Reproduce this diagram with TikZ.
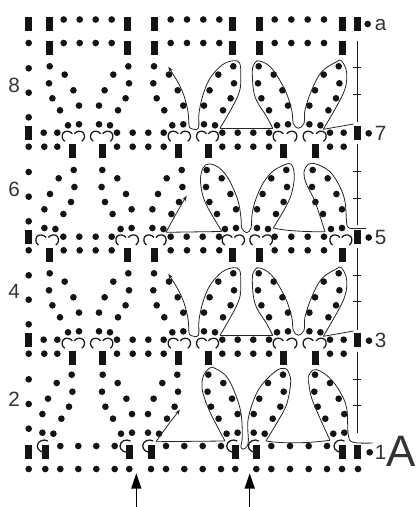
\documentclass[tikz,border=0pt]{standalone}
\usepackage{fontspec}
\setmainfont{Liberation Sans}
\usetikzlibrary{arrows.meta}
\newcommand\dotrow[2]{\foreach \px in {#2} \fill[ink] (\px,#1) circle[radius=2.5pt];}
\newcommand\barrow[2]{\foreach \px in {#2} \fill[ink] ({\px-3.5},{#1-7}) rectangle ({\px+3.5},{#1+7});}
\newcommand\lobedots[3]{\foreach \dx/\dy in {0/0,15/8.3,-0.7/17,23.7/24,2.7/32,29.3/39.3,10.3/44,18.3/59,29.3/58} \fill[ink] ({#1+#2*\dx},{#3+\dy}) circle[radius=2.5pt];}
\newcommand\copen[2]{\draw[curl] ({#1+5},{#2-2.5}) .. controls ({#1+3},{#2-5.5}) and ({#1-2},{#2-6}) .. ({#1-4},{#2-3.5}) .. controls ({#1-6},{#2-1}) and ({#1-5.5},{#2+3}) .. ({#1-2.5},{#2+5});}
\newcommand\cclose[2]{\draw[curl] ({#1-5},{#2-2.5}) .. controls ({#1-3},{#2-5.5}) and ({#1+2},{#2-6}) .. ({#1+4},{#2-3.5}) .. controls ({#1+6},{#2-1}) and ({#1+5.5},{#2+3}) .. ({#1+2.5},{#2+5});}
\newcommand\cfull[2]{\draw[curl] ({#1+5},{#2-5}) .. controls ({#1+1},{#2-7.5}) and ({#1-5.5},{#2-5}) .. ({#1-5.5},{#2}) .. controls ({#1-5.5},{#2+4}) and ({#1-1},{#2+7}) .. ({#1+3},{#2+6});}
\newcommand\evenstory{%
  \dotrow{132.7}{43.7,57.3,117,132.7,148.3,163.7,222.3,237.7,253.3,269,330,343.7}
  \dotrow{146.7}{28.7,44.3,57.3,117,132.7,148.3,163.7,222.3,237.7,253.3,269,330,343.7}
  \barrow{133}{28.5,357.3}
  \barrow{151}{72.3,102.3,178.3,208.3,283.3,315.3}
  \foreach \cx in {67.3,95.7,173.3,201.7,278.3,308.3} {\copen{\cx}{136.3}}
  \foreach \cx in {79.3,107.7,185.3,213.3,291.7,321} {\cclose{\cx}{136.3}}
  \dotrow{68.3}{28.7}\dotrow{92.7}{28.7}\dotrow{117.3}{28.7}
  \lobedots{49.7}{1}{66.3}\lobedots{128.3}{-1}{66.3}
  \lobedots{154}{1}{66.3}\lobedots{233.3}{-1}{66.3}
  \lobedots{258.7}{1}{66.3}\lobedots{338.7}{-1}{66.3}
  \draw[curve,{Stealth[length=4pt,width=3pt]}-] plot[smooth,tension=0.6] coordinates {(168.3,66.7) (181.7,90) (187.7,110) (189,125) (190.7,128.3) (198.3,128.3) (199,113) (203,95) (210,78.3) (222,65) (233.3,60.7) (239.5,63) (240.7,75) (238.3,95) (220,128.3)};
  \draw[curve] (220,128.3) -- (272.7,128.3);
  \draw[curve] plot[smooth,tension=0.6] coordinates {(272.7,128.3) (266.7,116.7) (255,96.7) (252.3,71.7) (255,62.7) (260,61) (271.7,68.3) (285,90) (291.7,110) (293.3,123.3) (298.3,128.3) (304,123.3) (305,110) (311.7,90) (321.7,71.7) (336.7,61.7) (341.7,61) (346.7,73.3) (343.3,93.3) (323.3,129.3)};
  \draw[curve] plot[smooth,tension=0.6] coordinates {(323.3,129.3) (338.3,126.7) (353.3,124)};
}
\begin{document}
\begin{tikzpicture}[x=0.75pt,y=-0.75pt,
  ink/.style={black!92},
  curl/.style={draw=black!90,line width=0.95pt},
  curve/.style={draw=black!85,line width=0.6pt,line join=round},
  lab/.style={text=black!80,font=\fontsize{15.5}{16}\selectfont,inner sep=0pt},
  bigarrow/.style={black,line width=1.1pt,-{Stealth[length=11.5pt,width=7.5pt,inset=0pt]}},
  railmain/.style={black!90,line width=1.1pt},
  railtick/.style={black!90,line width=0.7pt}]
\useasboundingbox (0,0) rectangle (415,507);
% top rows
\dotrow{19.5}{63.7,79.7,95.7,111.7,170.7,187,203.3,219.3,274.7,291.3,307.7,324}
\barrow{24}{28.5,49.5,127.5,154.5,232.5,259.3,342.3,357.3}
\dotrow{43}{28.7,63.7,79.7,95.7,111.7,170.7,187,203.3,219.3,274.7,291.3,307.7,324}
\barrow{48}{49.5,127.5,154.5,232.5,259.3,342.3}
% stories 8/7 and 4/3
\evenstory
\begin{scope}[shift={(0,207)}]
\evenstory
\end{scope}
% story 6/5
\dotrow{172}{28.7}\dotrow{196.7}{28.7}\dotrow{221.3}{28.7}
\lobedots{73.7}{-1}{170}\lobedots{102.3}{1}{170}
\lobedots{181.7}{-1}{170}\lobedots{206.7}{1}{170}
\lobedots{286.3}{-1}{170}\lobedots{312.7}{1}{170}
\dotrow{236.7}{63.3,79.3,95.7,111.7,170.7,186.7,202.7,219,274.7,291.3,307.7,324}
\dotrow{250.3}{28.7,63.7,79.7,95.7,111.7,170.7,187,203.3,219.3,274.7,291.3,307.7,324}
\barrow{237}{28.3,357.3}
\barrow{255}{49.3,127.3,154.3,232.3,259.3,342.3}
\foreach \cx in {41,121,149,227.3,255,335} {\copen{\cx}{240}}
\foreach \cx in {53.3,133.3,161,239.3,267.3,346.7} {\cclose{\cx}{240}}
\draw[curve,{Stealth[length=4pt,width=3pt]}-] plot[smooth,tension=0.6] coordinates {(186.7,195.7) (176,214) (166,232.3)};
\draw[curve] (166,232.3) -- (221.7,231.5);
\draw[curve] plot[smooth,tension=0.6] coordinates {(221.7,231) (205.5,203) (200.5,182) (203,168) (209,164) (218,167) (226,175) (231.7,185) (238.3,201.7) (241,218.3) (241.7,228) (246.7,232.7) (251,228) (252,215) (255,201.7) (262,185) (272,172) (284,165) (291,164) (294,172) (293.5,185) (288.3,202) (273.3,228)};
\draw[curve] (273.3,228) .. controls (285,231) and (310,232) .. (325,231.7);
\draw[curve] plot[smooth,tension=0.6] coordinates {(325,231.7) (315,201.7) (306,183) (304,172) (308,164.5) (316,164) (330,171.7) (340,187) (345,201.7) (346.7,223.3) (348.5,227.5) (352,228.5) (366,228.5)};
% story 2/1
\dotrow{379.3}{28.7}\dotrow{404}{28.7}\dotrow{428.7}{28.7}
\lobedots{71.7}{-1}{374.7}\lobedots{102.7}{1}{374.7}
\lobedots{177.3}{-1}{374.7}\lobedots{208.3}{1}{374.7}
\lobedots{283}{-1}{374.7}\lobedots{315}{1}{374.7}
\dotrow{446}{60.3,78.3,96.3,114.7,166,184.3,202.7,221,271.3,290,308.7,327}
\dotrow{469}{28.7,45.3,60.3,78.3,96.3,114.7,129.3,151,166,184.3,202.7,221,235.3,256.3,271.3,290,308.7,327,342,358}
\barrow{452}{28.3,45.3,129.3,151.3,235.3,256.3,342.3,357.3}
\foreach \cx in {42.8,125.5,148.2,232.2,253.8,339.5} {\cfull{\cx}{446}}
\draw[curve,{Stealth[length=4pt,width=3pt]}-] plot[smooth,tension=0.6] coordinates {(180,409.7) (168,425) (156,441.7)};
\draw[curve] (156,441.7) -- (225,441);
\draw[curve] plot[smooth,tension=0.6] coordinates {(225,441) (210,412) (202.5,391) (203,377) (209,368.5) (215,368.3) (228.3,379) (240,408.3) (242.3,435) (241,447.7) (245,448.3) (248.3,441.7) (248.3,418.3) (258.3,390) (275,371.7) (285,368.3) (289,373.3) (290.7,381.7) (288.3,398.3) (283.3,411.7) (266,441)};
\draw[curve] (266,441) .. controls (285,444) and (310,443) .. (330,440.3);
\draw[curve] plot[smooth,tension=0.6] coordinates {(330,440.3) (320,418.3) (311.7,398.3) (309,385) (308.3,376.7) (313.3,370) (320,371) (330,378.3) (340,391.7) (346.7,408.3) (348.3,435) (353.3,442.3) (372.7,443)};
% right-hand rail
\foreach \ya/\yb/\tka/\tkb in {40.7/121.7/67.7/94.7,144/225/171.7/198.3,248.3/330/275/301.7,351.7/433.3/379/405.7} {
  \draw[railmain] (357.4,\ya) -- (357.4,\yb);
  \draw[railtick] (353.4,\tka) -- (361.4,\tka);
  \draw[railtick] (353.4,\tkb) -- (361.4,\tkb);
}
% end dots
\dotrow{24}{367.7}\dotrow{133.3}{368.7}\dotrow{237.5}{368.7}\dotrow{340.7}{369}\dotrow{452.3}{369.7}
% labels
\node[lab] (la) at (380.7,25.5) {a};
\node[lab] (l7) at (380.7,133.3) {7};
\node[lab] (l5) at (380.7,237.3) {5};
\node[lab] (l3) at (380.7,340.7) {3};
\node[lab] (l1) at (380.7,452.3) {1};
\node[lab] (l8) at (14,85) {8};
\node[lab] (l6) at (14,189) {6};
\node[lab] (l4) at (14,291.7) {4};
\node[lab] (l2) at (14,399) {2};
\node[lab,font=\fontsize{33}{34}\selectfont] (bigA) at (400.7,451) {A};
% arrows
\coordinate (a1s) at (136.3,506.7);
\coordinate (a1e) at (136.3,473.3);
\coordinate (a2s) at (249.7,506.7);
\coordinate (a2e) at (249.7,473.3);
\draw[bigarrow] (a1s) -- (a1e);
\draw[bigarrow] (a2s) -- (a2e);
\end{tikzpicture}
\end{document}
